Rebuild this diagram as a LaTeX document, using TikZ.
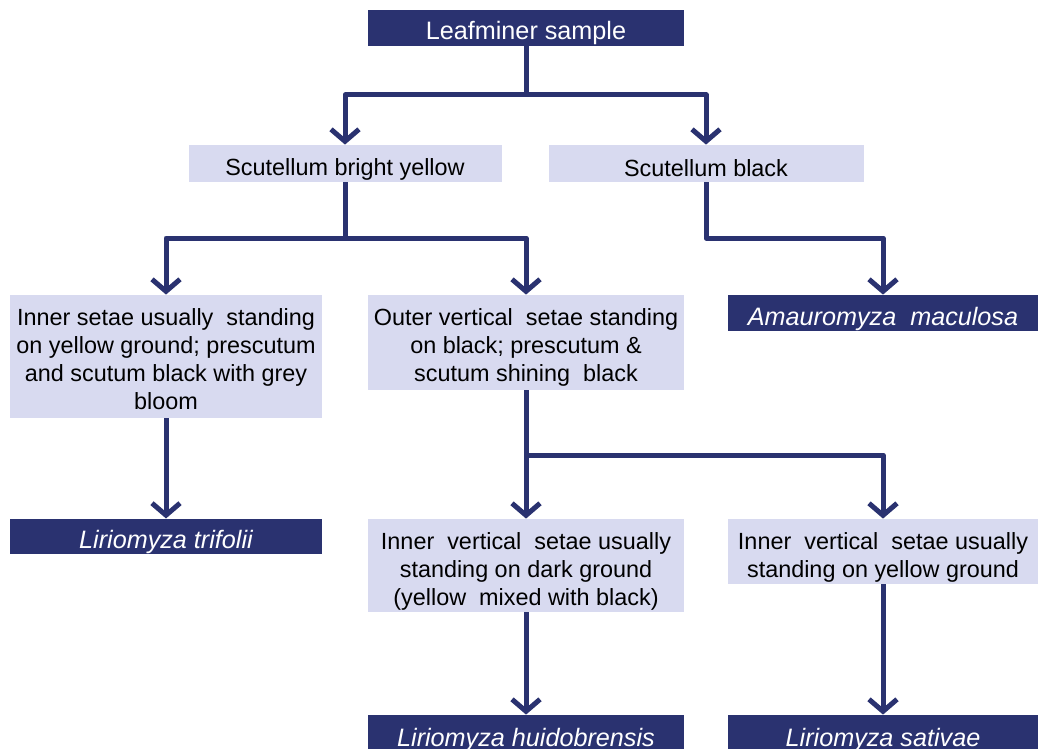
\documentclass[tikz,border=0pt]{standalone}
\usepackage{fontspec}
\setmainfont{Liberation Sans}
\usetikzlibrary{arrows.meta}
\definecolor{navy}{RGB}{42,50,112}
\definecolor{lavender}{RGB}{216,218,240}
\newcommand\lift[1]{\rule{0pt}{#1}}
\tikzset{
  keybox/.style={inner sep=0pt, align=center},
  darkbox/.style={keybox, fill=navy, text=white, font=\fontsize{12.6}{14}\selectfont},
  lightbox/.style={keybox, fill=lavender, text=black, font=\fontsize{11.7}{14}\selectfont},
  link/.style={draw=navy, line width=2.5pt, line join=round},
  arr/.style={link, -{Straight Barb[length=6pt,width=14pt,line width=2.5pt]}}
}
\begin{document}
\begin{tikzpicture}[x=0.5pt,y=-0.5pt]

    % Column centres (pixels of the key)
    \def\colA{166}   % left column
    \def\colB{526}   % middle column
    \def\colC{883}   % right column

    \useasboundingbox (0,0) rectangle (1038,749);

    % Top of the key
    \node[darkbox, minimum width=158pt, minimum height=18pt] (sample)
      at (\colB,28) {\lift{14pt}Leafminer sample};

    % First couplet: scutellum colour
    \node[lightbox, minimum width=156.5pt, minimum height=18.5pt] (yellow)
      at (345,163.5) {\lift{14.6pt}Scutellum bright yellow};
    \node[lightbox, minimum width=157.5pt, minimum height=18.5pt] (black)
      at (706,163.5) {\lift{13.6pt}Scutellum black};

    % Second couplet: setae and prescutum
    \node[lightbox, minimum width=156pt, minimum height=61.5pt] (innersetae)
      at (\colA,356.5) {\lift{11.1pt}Inner setae usually\ \ standing\\on yellow ground; prescutum\\and scutum black with grey\\bloom};
    \node[lightbox, minimum width=158pt, minimum height=47.5pt] (outersetae)
      at (\colB,342.5) {\lift{13.6pt}Outer vertical\ \ setae standing\\on black; prescutum \&\\scutum shining\ \ black};
    \node[darkbox, minimum width=155pt, minimum height=18pt] (amauro)
      at (\colC,313) {\lift{15pt}\itshape Amauromyza\ \ maculosa};

    % Third couplet: inner vertical setae
    \node[darkbox, minimum width=156pt, minimum height=17.5pt] (trifolii)
      at (\colA,536.5) {\lift{15pt}\itshape Liriomyza trifolii};
    \node[lightbox, minimum width=158pt, minimum height=46.5pt] (darkground)
      at (\colB,565.5) {\lift{14.6pt}Inner\ \ vertical\ \ setae usually\\standing on dark ground\\(yellow\ \ mixed with black)};
    \node[lightbox, minimum width=155pt, minimum height=32.5pt] (yellowground)
      at (\colC,551.5) {\lift{14.6pt}Inner\ \ vertical\ \ setae usually\\standing on yellow ground};

    % Species at the bottom (cut by the page edge)
    \node[darkbox, minimum width=158pt, minimum height=22pt] (huido)
      at (\colB,737) {\lift{12pt}\itshape Liriomyza huidobrensis};
    \node[darkbox, minimum width=155pt, minimum height=22pt] (sativae)
      at (\colC,737) {\lift{12pt}\itshape Liriomyza sativae};

    % Branch points
    \coordinate (split1) at (\colB,95);
    \coordinate (split2) at (345,238);
    \coordinate (split3) at (706,238);
    \coordinate (split4) at (\colB,455);

    % Connectors
    \draw[link] (sample.south) -- (split1);
    \draw[arr] (split1) -| (yellow.north);
    \draw[arr] (split1) -| (black.north);

    \draw[link] (yellow.south) -- (split2);
    \draw[arr] (split2) -| (innersetae.north);
    \draw[arr] (split2) -| (outersetae.north);

    \draw[arr] (black.south) -- (split3) -| (amauro.north);

    \draw[arr] (innersetae.south) -- (trifolii.north);

    \draw[link] (outersetae.south) -- (split4);
    \draw[arr] (split4) -- (darkground.north);
    \draw[arr] (split4) -| (yellowground.north);

    \draw[arr] (darkground.south) -- (huido.north);
    \draw[arr] (yellowground.south) -- (sativae.north);

\end{tikzpicture}
\end{document}
